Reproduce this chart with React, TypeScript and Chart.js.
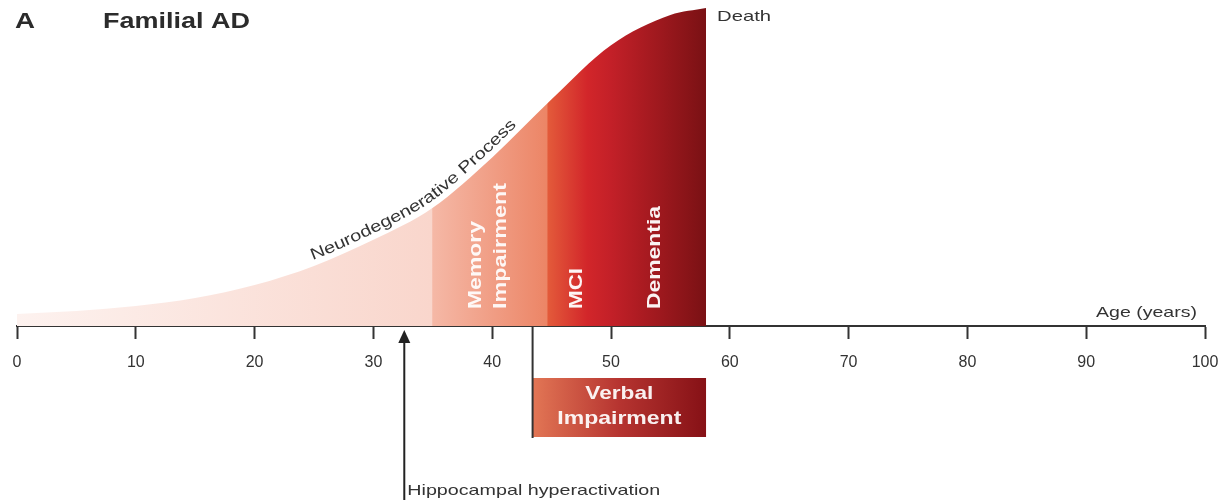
import React, { useEffect, useRef } from "react";
import { Chart, registerables } from "chart.js";

Chart.register(...registerables);

// ---- Data ----
const ages = [0, 5, 10, 15, 20, 25, 30, 35, 40, 45, 50, 55, 58];
const burden = [3.8, 4.7, 6.3, 8.8, 12.9, 18.9, 27.1, 37.2, 53.0, 71.3, 88.3, 97.8, 100];
const tickValues = [0, 10, 20, 30, 40, 50, 60, 70, 80, 90, 100];

const fillStopAges = [0, 34.9, 35, 44.6, 44.7, 48, 50, 58];
const fillStopColors = ["#fdf2ef", "#f9d6cc", "#f5b8a6", "#ec8566", "#e35a3a", "#d2262a", "#c32028", "#7a1114"];

const verbalStart = 43.4;
const verbalEnd = 58;
const verbalColors = ["#e27655", "#b63430", "#861116"];
const hippocampalAge = 32.6;
const memoryLineAges = [38.6, 40.7];
const mciAge = 47.1;
const dementiaAge = 53.7;
const deathAge = 58;

const titleLetter = "A";
const titleText = "Familial AD";
const curveLabel = "Neurodegenerative Process";
const memoryLines = ["Memory", "Impairment"];
const mciLabel = "MCI";
const dementiaLabel = "Dementia";
const verbalLines = ["Verbal", "Impairment"];
const hippoLabel = "Hippocampal hyperactivation";
const deathLabel = "Death";
const axisLabel = "Age (years)";

const FONT = "'Liberation Sans', Arial, Helvetica, sans-serif";

function drawText(
  ctx: CanvasRenderingContext2D,
  text: string,
  x: number,
  y: number,
  font: string,
  color: string,
  targetWidth: number | null,
  align: CanvasTextAlign,
  baseline: CanvasTextBaseline,
  rotate = 0
) {
  ctx.save();
  ctx.font = font;
  const w = ctx.measureText(text).width;
  const sx = targetWidth ? targetWidth / w : 1;
  ctx.translate(x, y);
  if (rotate) ctx.rotate(rotate);
  ctx.scale(sx, 1);
  ctx.textAlign = align;
  ctx.textBaseline = baseline;
  ctx.fillStyle = color;
  ctx.fillText(text, 0, 0);
  ctx.restore();
}

function curveYAt(chart: any, px: number): number {
  const meta = chart.getDatasetMeta(0);
  const line: any = meta.dataset;
  if (line && typeof line.interpolate === "function") {
    const p = line.interpolate({ x: px }, "x");
    if (p && isFinite(p.y)) return p.y;
  }
  const pts = meta.data;
  for (let i = 0; i < pts.length - 1; i++) {
    const a = pts[i], b = pts[i + 1];
    if (px >= a.x && px <= b.x) {
      const t = (px - a.x) / (b.x - a.x || 1);
      return a.y + (b.y - a.y) * t;
    }
  }
  return chart.chartArea.bottom;
}

const annotationPlugin = {
  id: "annotations",
  afterDraw(chart: any) {
    const ctx: CanvasRenderingContext2D = chart.ctx;
    const xs = chart.scales.x;
    const area = chart.chartArea;
    const base = area.bottom;
    const px = (v: number) => xs.getPixelForValue(v);

    // Title
    drawText(ctx, titleLetter, 15, 22, `bold 22px ${FONT}`, "#2b2b2b", 20, "left", "middle");
    drawText(ctx, titleText, 103, 22, `bold 22px ${FONT}`, "#2b2b2b", 147, "left", "middle");

    // Death
    drawText(ctx, deathLabel, px(deathAge) + 11, 17, `15px ${FONT}`, "#333", 54, "left", "middle");

    // Axis label
    drawText(ctx, axisLabel, 1197, base - 13, `15px ${FONT}`, "#333", 101, "right", "middle");

    // Vertical labels inside curve
    const vfont = `bold 19px ${FONT}`;
    drawText(ctx, memoryLines[0], px(memoryLineAges[0]), base - 17, vfont, "rgba(255,255,255,0.92)", 88, "left", "middle", -Math.PI / 2);
    drawText(ctx, memoryLines[1], px(memoryLineAges[1]), base - 17, vfont, "rgba(255,255,255,0.92)", 126, "left", "middle", -Math.PI / 2);
    drawText(ctx, mciLabel, px(mciAge), base - 17, vfont, "rgba(255,255,255,0.95)", 41, "left", "middle", -Math.PI / 2);
    drawText(ctx, dementiaLabel, px(dementiaAge), base - 17, vfont, "rgba(255,255,255,0.95)", 103, "left", "middle", -Math.PI / 2);

    // Verbal impairment box
    const vx0 = px(verbalStart), vx1 = px(verbalEnd);
    const vTop = base + 52, vBot = base + 111;
    const g = ctx.createLinearGradient(vx0, 0, vx1, 0);
    g.addColorStop(0, verbalColors[0]);
    g.addColorStop(0.5, verbalColors[1]);
    g.addColorStop(1, verbalColors[2]);
    ctx.save();
    ctx.fillStyle = g;
    ctx.fillRect(vx0, vTop, vx1 - vx0, vBot - vTop);
    ctx.strokeStyle = "#333";
    ctx.lineWidth = 2;
    ctx.beginPath();
    ctx.moveTo(vx0, base);
    ctx.lineTo(vx0, vBot + 1);
    ctx.stroke();
    ctx.restore();
    const vc = (vx0 + vx1) / 2;
    drawText(ctx, verbalLines[0], vc, vTop + 16, vfont, "rgba(255,255,255,0.93)", 68, "center", "middle");
    drawText(ctx, verbalLines[1], vc, vTop + 41, vfont, "rgba(255,255,255,0.93)", 124, "center", "middle");

    // Hippocampal arrow
    const hx = px(hippocampalAge);
    ctx.save();
    ctx.strokeStyle = "#222";
    ctx.fillStyle = "#222";
    ctx.lineWidth = 2;
    ctx.beginPath();
    ctx.moveTo(hx, 500);
    ctx.lineTo(hx, base + 14);
    ctx.stroke();
    ctx.beginPath();
    ctx.moveTo(hx, base + 4);
    ctx.lineTo(hx - 6, base + 17);
    ctx.lineTo(hx + 6, base + 17);
    ctx.closePath();
    ctx.fill();
    ctx.restore();
    drawText(ctx, hippoLabel, hx + 3, 491, `15px ${FONT}`, "#333", 253, "left", "middle");

    // Text along the curve
    const startX = 315, endX = 521;
    const pts: { x: number; y: number }[] = [];
    for (let x = startX - 5; x <= endX + 40; x += 1) pts.push({ x, y: curveYAt(chart, x) });
    const cum: number[] = [0];
    for (let i = 1; i < pts.length; i++) {
      cum.push(cum[i - 1] + Math.hypot(pts[i].x - pts[i - 1].x, pts[i].y - pts[i - 1].y));
    }
    const s0 = cum[5];
    const s1 = cum[5 + (endX - startX)];
    const cfont = `16px ${FONT}`;
    ctx.save();
    ctx.font = cfont;
    const total = ctx.measureText(curveLabel).width;
    const sx = (s1 - s0) / total;
    let s = s0;
    const offset = 6;
    for (const ch of curveLabel) {
      const w = ctx.measureText(ch).width * sx;
      const sm = s + w / 2;
      let i = 0;
      while (i < cum.length - 2 && cum[i + 1] < sm) i++;
      const t = (sm - cum[i]) / (cum[i + 1] - cum[i] || 1);
      const x = pts[i].x + (pts[i + 1].x - pts[i].x) * t;
      const y = pts[i].y + (pts[i + 1].y - pts[i].y) * t;
      const a0 = pts[Math.max(0, i - 3)], a1 = pts[Math.min(pts.length - 1, i + 3)];
      const ang = Math.atan2(a1.y - a0.y, a1.x - a0.x);
      const nx = Math.sin(ang) * offset, ny = -Math.cos(ang) * offset;
      ctx.save();
      ctx.translate(x + nx, y + ny);
      ctx.rotate(ang);
      ctx.scale(sx, 1);
      ctx.textAlign = "center";
      ctx.textBaseline = "alphabetic";
      ctx.fillStyle = "#333";
      ctx.fillText(ch, 0, 0);
      ctx.restore();
      s += w;
    }
    ctx.restore();
  },
};

export default function App() {
  const ref = useRef<HTMLCanvasElement | null>(null);
  useEffect(() => {
    document.body.style.margin = "0";
    const canvas = ref.current;
    if (!canvas) return;
    const chart = new Chart(canvas, {
      type: "line",
      data: {
        datasets: [
          {
            label: "Neurodegenerative Process",
            data: ages.map((a, i) => ({ x: a, y: burden[i] })),
            fill: "origin",
            borderWidth: 0,
            borderColor: "rgba(0,0,0,0)",
            pointRadius: 0,
            cubicInterpolationMode: "monotone",
            backgroundColor: (c: any) => {
              const ch = c.chart;
              const area = ch.chartArea;
              if (!area) return fillStopColors[0];
              const sc = ch.scales.x;
              const x0 = sc.getPixelForValue(fillStopAges[0]);
              const x1 = sc.getPixelForValue(fillStopAges[fillStopAges.length - 1]);
              const grad = ch.ctx.createLinearGradient(x0, 0, x1, 0);
              const span = fillStopAges[fillStopAges.length - 1] - fillStopAges[0];
              fillStopAges.forEach((a, i) => grad.addColorStop((a - fillStopAges[0]) / span, fillStopColors[i]));
              return grad;
            },
          },
        ],
      },
      options: {
        responsive: false,
        animation: false,
        devicePixelRatio: 1,
        layout: { padding: { top: 8, left: 17, right: 21, bottom: 0 } },
        plugins: { legend: { display: false }, tooltip: { enabled: false }, title: { display: false } },
        scales: {
          x: {
            type: "linear",
            min: 0,
            max: 100,
            z: 1,
            afterFit: (axis: any) => {
              axis.height = 501 - 326;
              axis.paddingLeft = 0;
              axis.paddingRight = 0;
            },
            afterBuildTicks: (axis: any) => {
              axis.ticks = tickValues.map((v) => ({ value: v }));
            },
            border: { display: true, color: "#333", width: 2 },
            grid: { display: true, drawOnChartArea: false, drawTicks: true, tickLength: 13, tickWidth: 2, tickColor: "#333" },
            ticks: { color: "#333", font: { size: 16, family: FONT }, padding: 14, maxRotation: 0 },
          },
          y: { display: false, min: 0, max: 100 },
        },
      },
      plugins: [annotationPlugin],
    } as any);
    return () => chart.destroy();
  }, []);
  return (
    <div style={{ width: 1226, height: 501 }}>
      <canvas ref={ref} width={1226} height={501} style={{ display: "block" }} />
    </div>
  );
}
